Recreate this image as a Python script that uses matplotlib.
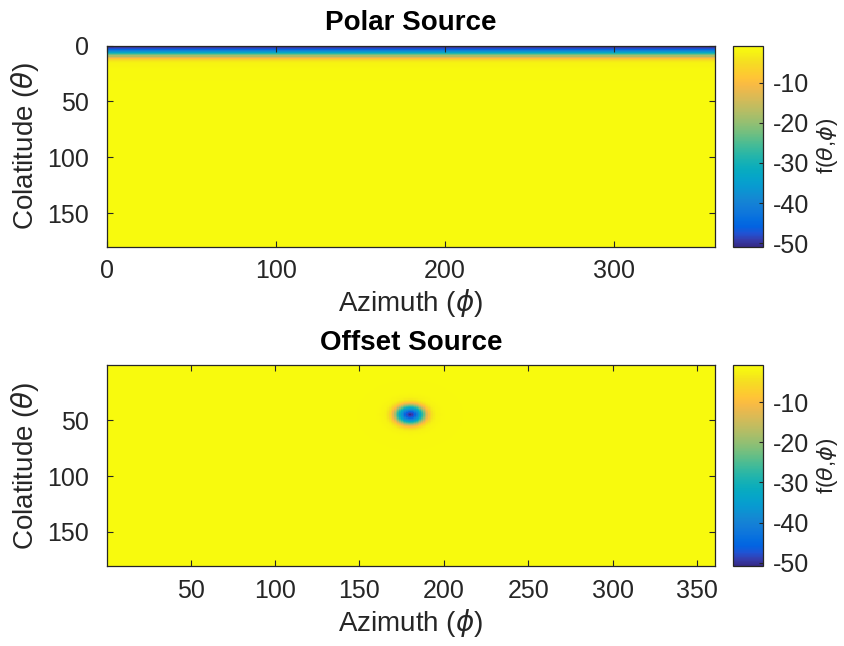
import matplotlib
matplotlib.use("Agg")
import matplotlib.pyplot as plt
import numpy as np
from matplotlib.colors import LinearSegmentedColormap

# MATLAB parula (subset of the 64-entry table)
parula_rgb = [
    [0.2081, 0.1663, 0.5292], [0.2081, 0.2386, 0.6771], [0.1253, 0.3242, 0.8303],
    [0.0117, 0.3875, 0.8820], [0.0165, 0.4266, 0.8786], [0.0498, 0.4586, 0.8641],
    [0.0723, 0.4887, 0.8467], [0.0793, 0.5200, 0.8312], [0.0641, 0.5570, 0.8240],
    [0.0343, 0.5966, 0.8199], [0.0239, 0.6287, 0.8038], [0.0228, 0.6535, 0.7768],
    [0.0384, 0.6743, 0.7436], [0.0843, 0.6928, 0.7062], [0.1453, 0.7098, 0.6646],
    [0.2178, 0.7250, 0.6193], [0.3022, 0.7376, 0.5712], [0.3953, 0.7459, 0.5244],
    [0.4871, 0.7491, 0.4840], [0.5709, 0.7485, 0.4494], [0.6473, 0.7456, 0.4188],
    [0.7184, 0.7411, 0.3905], [0.7858, 0.7356, 0.3633], [0.8507, 0.7299, 0.3360],
    [0.9139, 0.7258, 0.3063], [0.9739, 0.7314, 0.2666], [0.9990, 0.7653, 0.2164],
    [0.9880, 0.8066, 0.1794], [0.9697, 0.8481, 0.1475], [0.9589, 0.8949, 0.1132],
    [0.9661, 0.9514, 0.0755], [0.9763, 0.9831, 0.0538],
]
parula = LinearSegmentedColormap.from_list("parula", parula_rgb)

# field level versus angular distance from the source (deg -> dB)
profile_deg = [0, 2, 3, 4, 5, 6, 7, 8, 9, 10, 11, 12, 13, 14, 16, 20, 40, 180]
profile_db = [-50.8, -48, -45, -41, -37, -33, -28, -23, -18, -13, -9.5, -6.5, -4.5,
              -3.2, -2.0, -1.2, -0.85, -0.8]

# source positions (azimuth, colatitude) in degrees
polar_source = (0, 0)
offset_source = (180, 45)

titles = ["Polar Source", "Offset Source"]

plt.rcParams['font.family'] = ['Liberation Sans', 'DejaVu Sans']
plt.rcParams['mathtext.fontset'] = 'dejavusans'
plt.rcParams['axes.unicode_minus'] = False
dark = '#262626'

fig = plt.figure(figsize=(8.45, 6.46), dpi=100)

# top panel: grid 0..360 x 0..180
phi_top = np.arange(0, 361)
theta_top = np.arange(0, 181)
P, T = np.meshgrid(phi_top, theta_top)
f_top = np.interp(np.abs(T - polar_source[1]), profile_deg, profile_db)

# bottom panel: grid 1..360 x 1..180
phi_bot = np.arange(1, 361)
theta_bot = np.arange(1, 181)
P2, T2 = np.meshgrid(phi_bot, theta_bot)
d_bot = np.hypot(P2 - offset_source[0], T2 - offset_source[1])
f_bot = np.interp(d_bot, profile_deg, profile_db)

panels = [
    (f_top, [-0.5, 360.5, 180.5, -0.5], (0, 360), (180, 0), [0, 100, 200, 300], [0, 50, 100, 150], 0.6184),
    (f_bot, [0.5, 360.5, 180.5, 0.5], (0.5, 360.5), (180.5, 0.5), [50, 100, 150, 200, 250, 300, 350], [50, 100, 150], 0.1238),
]

for (field, ext, xl, yl, xt, yt, y0), title in zip(panels, titles):
    ax = fig.add_axes([0.1266, y0, 0.7195, 0.311])
    im = ax.imshow(field, cmap=parula, extent=ext, aspect='auto',
                   interpolation='nearest', vmin=field.min(), vmax=field.max())
    ax.set_xlim(*xl)
    ax.set_ylim(*yl)
    ax.set_xticks(xt)
    ax.set_yticks(yt)
    ax.tick_params(direction='in', length=4, width=0.8, colors=dark,
                   labelsize=18, top=True, right=True)
    ax.tick_params(axis='y', pad=13)
    ax.tick_params(axis='x', pad=9)
    for s in ax.spines.values():
        s.set_color(dark)
        s.set_linewidth(0.9)
    ax.set_xlabel(r'Azimuth ($\phi$)', fontsize=20, color=dark, labelpad=3)
    ax.set_ylabel(r'Colatitude ($\theta$)', fontsize=20, color=dark, labelpad=4)
    ax.set_title(title, fontsize=20, fontweight='bold', color='black', pad=11)

    cax = fig.add_axes([0.8675, y0, 0.0355, 0.311])
    cb = fig.colorbar(im, cax=cax)
    cb.set_ticks([-10, -20, -30, -40, -50])
    cb.ax.tick_params(direction='in', length=3, width=0.8, colors=dark,
                      labelsize=18, pad=7)
    cb.outline.set_edgecolor(dark)
    cb.outline.set_linewidth(0.9)
    cb.set_label(r'f($\theta$,$\phi$)', fontsize=16, color=dark, labelpad=4)

fig.savefig('out.png', dpi=100, facecolor='white')
